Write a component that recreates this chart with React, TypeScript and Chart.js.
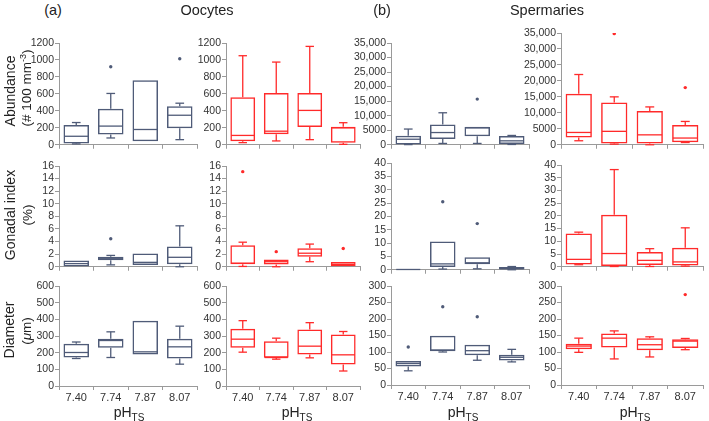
import React, { useEffect, useRef } from 'react';
import { Chart, registerables } from 'chart.js';
Chart.register(...registerables);

// Categories (pH_TS)
const PH = ['7.40', '7.74', '7.87', '8.07'];

// Five-number summaries per category: [min, q1, median, q3, max]
const OOC_ABUND_CTRL = [[10, 15, 100, 232, 262], [80, 120, 220, 425, 605], [40, 40, 180, 760, 760], [60, 195, 348, 455, 490]];
const OOC_ABUND_CTRL_OUT = [null, 920, null, 1015];
const OOC_ABUND_TRT = [[25, 40, 110, 560, 1050], [45, 125, 160, 610, 975], [60, 210, 405, 610, 1160], [5, 25, 200, 212, 260]];
const OOC_ABUND_TRT_OUT = [null, null, null, null];

const SPE_ABUND_CTRL = [[50, 100, 1900, 3100, 5400], [450, 1950, 4200, 7000, 11000], [450, 2900, 5900, 6100, 6100], [100, 230, 1350, 3000, 3200]];
const SPE_ABUND_CTRL_OUT = [null, null, 15700, null];
const SPE_ABUND_TRT = [[1250, 2300, 3850, 16000, 22000], [200, 400, 4200, 13200, 15000], [0, 400, 3100, 10600, 11850], [700, 750, 2100, 6150, 7300]];
const SPE_ABUND_TRT_OUT = [null, 34800, null, 17900];

const OOC_GI_CTRL = [[0.05, 0.05, 0.5, 1.0, 1.0], [0.3, 1.05, 1.35, 1.6, 1.8], [0.26, 0.26, 0.7, 2.1, 2.1], [0, 0.4, 1.5, 3.2, 6.5]];
const OOC_GI_CTRL_OUT = [null, 4.45, null, null];
const OOC_GI_TRT = [[0.05, 0.4, 0.55, 3.4, 3.9], [0, 0.37, 0.8, 1.15, 1.15], [0.8, 1.6, 2.15, 2.95, 3.6], [0, 0, 0.37, 0.75, 0.75]];
const OOC_GI_TRT_OUT = [15.1, 2.4, null, 2.9];

const SPE_GI_CTRL = [[0, 0, 0.1, 0.2, 0.2], [0.25, 1.0, 2.2, 10.6, 10.6], [0.35, 2.1, 2.6, 4.7, 4.7], [0, 0.05, 0.4, 1.0, 1.2]];
const SPE_GI_CTRL_OUT = [null, 25.5, 17.3, null];
const SPE_GI_TRT = [[0.8, 0.9, 2.9, 13.1, 13.6], [0.1, 0.26, 5.2, 20.4, 38.2], [0.1, 0.65, 2.5, 5.8, 7.1], [0.26, 0.5, 1.9, 7.5, 15.3]];
const SPE_GI_TRT_OUT = [null, null, null, null];

const OOC_DIAM_CTRL = [[165, 171, 201, 253, 264], [171, 229, 273, 283, 325], [189, 189, 205, 392, 392], [131, 165, 235, 283, 359]];
const OOC_DIAM_CTRL_OUT = [null, null, null, null];
const OOC_DIAM_TRT = [[203, 229, 281, 343, 392], [161, 169, 171, 269, 287], [169, 189, 239, 339, 380], [90, 129, 187, 309, 327]];
const OOC_DIAM_TRT_OUT = [null, null, null, null];

const SPE_DIAM_CTRL = [[43, 56, 65, 73, 73], [100, 102, 106, 149, 149], [75, 90, 104, 122, 122], [70, 74, 84, 92, 108]];
const SPE_DIAM_CTRL_OUT = [115, 237, 207, null];
const SPE_DIAM_TRT = [[99, 108, 118, 125, 142], [79, 114, 142, 156, 164], [85, 105, 122, 142, 146], [107, 112, 133, 139, 141]];
const SPE_DIAM_TRT_OUT = [null, null, null, 274];

// Y axis ranges: [max, step]
const Y_OOC_ABUND = [1200, 200];
const Y_SPE_ABUND = [35000, 5000];
const Y_OOC_GI = [16, 2];
const Y_SPE_GI = [40, 5];
const Y_OOC_DIAM = [600, 100];
const Y_SPE_DIAM = [300, 50];

const BLUE = '#4f5b78';
const RED = '#ff2a2a';
const AXIS = '#9a9a9a';
const TEXT = '#333333';
const FONT = "'Liberation Sans', Arial, sans-serif";

const YW = 50;
const PT = 8;
const PR = 6;

type PanelDef = {
  stats: number[][];
  out: (number | null)[];
  color: string;
  y: number[];
  area: number[]; // x0, x1, y0, y1 (chart area)
  showX: boolean;
};

const COLS = [[59, 197], [226, 360], [391, 529], [561, 703]];

const PANELS: PanelDef[] = [
  { stats: OOC_ABUND_CTRL, out: OOC_ABUND_CTRL_OUT, color: BLUE, y: Y_OOC_ABUND, area: [...COLS[0], 43, 146], showX: false },
  { stats: OOC_ABUND_TRT, out: OOC_ABUND_TRT_OUT, color: RED, y: Y_OOC_ABUND, area: [...COLS[1], 43, 146], showX: false },
  { stats: SPE_ABUND_CTRL, out: SPE_ABUND_CTRL_OUT, color: BLUE, y: Y_SPE_ABUND, area: [...COLS[2], 43, 146], showX: false },
  { stats: SPE_ABUND_TRT, out: SPE_ABUND_TRT_OUT, color: RED, y: Y_SPE_ABUND, area: [...COLS[3], 33, 146], showX: false },
  { stats: OOC_GI_CTRL, out: OOC_GI_CTRL_OUT, color: BLUE, y: Y_OOC_GI, area: [...COLS[0], 166, 268], showX: false },
  { stats: OOC_GI_TRT, out: OOC_GI_TRT_OUT, color: RED, y: Y_OOC_GI, area: [...COLS[1], 166, 268], showX: false },
  { stats: SPE_GI_CTRL, out: SPE_GI_CTRL_OUT, color: BLUE, y: Y_SPE_GI, area: [...COLS[2], 163, 271], showX: false },
  { stats: SPE_GI_TRT, out: SPE_GI_TRT_OUT, color: RED, y: Y_SPE_GI, area: [...COLS[3], 165, 268], showX: false },
  { stats: OOC_DIAM_CTRL, out: OOC_DIAM_CTRL_OUT, color: BLUE, y: Y_OOC_DIAM, area: [...COLS[0], 286, 386], showX: true },
  { stats: OOC_DIAM_TRT, out: OOC_DIAM_TRT_OUT, color: RED, y: Y_OOC_DIAM, area: [...COLS[1], 286, 386], showX: true },
  { stats: SPE_DIAM_CTRL, out: SPE_DIAM_CTRL_OUT, color: BLUE, y: Y_SPE_DIAM, area: [...COLS[2], 286, 385], showX: true },
  { stats: SPE_DIAM_TRT, out: SPE_DIAM_TRT_OUT, color: RED, y: Y_SPE_DIAM, area: [...COLS[3], 286, 385], showX: true },
];

function makeBoxPlugin(stats: number[][], color: string) {
  return {
    id: 'boxWhiskers',
    afterDatasetsDraw(chart: any) {
      const meta = chart.getDatasetMeta(0);
      const ys = chart.scales.y;
      const ctx = chart.ctx;
      ctx.save();
      ctx.strokeStyle = color;
      ctx.lineWidth = 1.3;
      const line = (x1: number, y1: number, x2: number, y2: number) => {
        ctx.beginPath();
        ctx.moveTo(x1, y1);
        ctx.lineTo(x2, y2);
        ctx.stroke();
      };
      meta.data.forEach((bar: any, i: number) => {
        const [mn, q1, md, q3, mx] = stats[i];
        const { x, width } = bar.getProps(['x', 'width'], true);
        const half = width / 2 - 0.75;
        const cap = width * 0.17;
        const py = (v: number) => ys.getPixelForValue(v);
        line(x - half, py(md), x + half, py(md));
        if (mx > q3) {
          line(x, py(q3), x, py(mx));
          line(x - cap, py(mx), x + cap, py(mx));
        }
        if (mn < q1) {
          line(x, py(q1), x, py(mn));
          line(x - cap, py(mn), x + cap, py(mn));
        }
      });
      ctx.restore();
    },
  };
}

function fmt(v: number) {
  return v >= 10000 ? v.toLocaleString('en-US') : String(v);
}

function Panel({ def }: { def: PanelDef }) {
  const ref = useRef<HTMLCanvasElement>(null);
  const [x0, x1, y0, y1] = def.area;
  const XH = def.showX ? 19 : 5;
  const w = x1 - x0 + YW + PR;
  const h = y1 - y0 + PT + XH;
  useEffect(() => {
    if (!ref.current) return;
    const chart = new Chart(ref.current, {
      type: 'bar',
      data: {
        labels: PH,
        datasets: [
          {
            type: 'bar',
            data: def.stats.map((s) => [s[1], s[3]]) as any,
            backgroundColor: 'rgba(0,0,0,0)',
            borderColor: def.color,
            borderWidth: 1.5,
            borderSkipped: false,
            barPercentage: 0.74,
            categoryPercentage: 1,
          },
          {
            type: 'line',
            data: def.out as any,
            showLine: false,
            pointRadius: 1.7,
            pointBorderWidth: 0,
            pointBackgroundColor: def.color,
            borderColor: def.color,
            backgroundColor: def.color,
          },
        ],
      },
      options: {
        responsive: false,
        animation: false,
        devicePixelRatio: 1,
        layout: { padding: { top: PT, right: PR, left: 0, bottom: 0 } },
        plugins: { legend: { display: false }, tooltip: { enabled: false } },
        scales: {
          x: {
            type: 'category',
            offset: true,
            grid: { offset: true, drawOnChartArea: false, drawTicks: true, tickLength: 4, color: AXIS },
            border: { color: AXIS, width: 1 },
            ticks: { display: def.showX, font: { size: 11, family: FONT }, color: TEXT, padding: 1 },
            afterFit: (s: any) => { s.height = XH; },
          },
          y: {
            min: 0,
            max: def.y[0],
            grid: { drawOnChartArea: false, drawTicks: true, tickLength: 4, color: AXIS },
            border: { color: AXIS, width: 1 },
            ticks: {
              stepSize: def.y[1],
              autoSkip: false,
              maxTicksLimit: 50,
              font: { size: 10.5, family: FONT, lineHeight: 1 },
              color: TEXT,
              padding: 1,
              callback: (v: any) => fmt(Number(v)),
            },
            afterFit: (s: any) => { s.width = YW; },
          },
        },
      } as any,
      plugins: [makeBoxPlugin(def.stats, def.color)],
    });
    return () => chart.destroy();
  }, [def]);
  return (
    <canvas
      ref={ref}
      width={w}
      height={h}
      style={{ position: 'absolute', left: x0 - YW, top: y0 - PT, width: w, height: h }}
    />
  );
}

const txt: React.CSSProperties = {
  position: 'absolute',
  fontFamily: FONT,
  color: '#222',
  whiteSpace: 'nowrap',
  lineHeight: 1,
  transform: 'translate(-50%, -50%)',
};
const vtxt: React.CSSProperties = { ...txt, transform: 'translate(-50%, -50%) rotate(-90deg)' };

function At({ x, y, size, vertical, children }: any) {
  return <div style={{ ...(vertical ? vtxt : txt), left: x, top: y, fontSize: size }}>{children}</div>;
}

const PH_CENTERS = [129, 297, 463, 635];

export default function App() {
  return (
    <div style={{ position: 'absolute', left: 0, top: 0, width: 709, height: 421, background: '#fff', overflow: 'hidden' }}>
      {PANELS.map((p, i) => <Panel key={i} def={p} />)}
      <At x={53} y={10} size={14.5}>(a)</At>
      <At x={207} y={10} size={14.5}>Oocytes</At>
      <At x={382} y={10} size={14.5}>(b)</At>
      <At x={547} y={10} size={14.5}>Spermaries</At>
      <At x={10} y={91} size={14} vertical>Abundance</At>
      <At x={27} y={88} size={13.5} vertical>(# 100 mm<sup style={{ fontSize: 9, verticalAlign: 'super', lineHeight: 0 }}>-3</sup>)</At>
      <At x={10} y={215} size={14} vertical>Gonadal index</At>
      <At x={28} y={215} size={13.5} vertical>(%)</At>
      <At x={9} y={330} size={14} vertical>Diameter</At>
      <At x={27} y={331} size={13.5} vertical>(<i>μ</i>m)</At>
      {PH_CENTERS.map((cx, i) => (
        <div key={i} style={{ position: 'absolute', left: cx, top: 405, transform: 'translateX(-50%)', fontFamily: FONT, fontSize: 14, color: '#222', whiteSpace: 'nowrap', lineHeight: '14px' }}>
          pH<span style={{ fontSize: 10, position: 'relative', top: 4 }}>TS</span>
        </div>
      ))}
    </div>
  );
}
